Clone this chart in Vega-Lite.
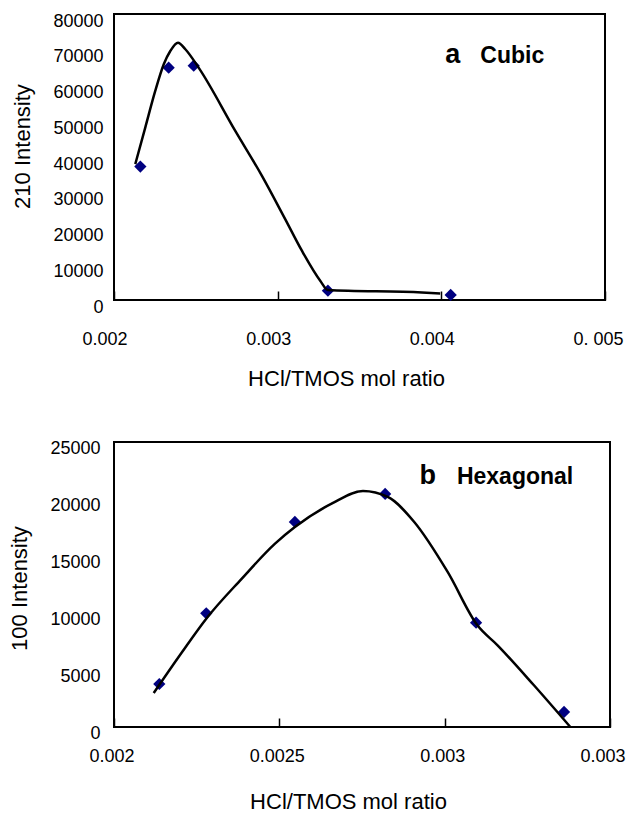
{
  "$schema": "https://vega.github.io/schema/vega-lite/v6.json",
  "background": "white",
  "padding": {"left": 7, "top": 11, "right": 0, "bottom": 0},
  "spacing": 48,
  "config": {
    "font": "Liberation Sans",
    "view": {"stroke": "black", "strokeWidth": 2},
    "axis": {
      "grid": false, "domain": false,
      "labelFont": "Liberation Sans", "labelFontSize": 18, "labelColor": "black",
      "titleFont": "Liberation Sans", "titleFontSize": 22, "titleFontWeight": "normal", "titleColor": "black",
      "tickColor": "black", "tickWidth": 1.5,
      "labelOverlap": false, "labelFlush": false, "labelBound": false
    }
  },
  "datasets": {
    "curveA": [
      {"x": 0.00213, "y": 38000},
      {"x": 0.002191, "y": 48230},
      {"x": 0.002252, "y": 58490},
      {"x": 0.002304, "y": 65950},
      {"x": 0.002344, "y": 69660},
      {"x": 0.002391, "y": 71980},
      {"x": 0.002436, "y": 70140},
      {"x": 0.002517, "y": 65000},
      {"x": 0.002741, "y": 47300},
      {"x": 0.002904, "y": 34730},
      {"x": 0.003046, "y": 22630},
      {"x": 0.003148, "y": 13780},
      {"x": 0.00326, "y": 5400},
      {"x": 0.003307, "y": 2800},
      {"x": 0.003882, "y": 2120},
      {"x": 0.003993, "y": 1850}
    ],
    "pointsA": [
      {"x": 0.002161, "y": 37330},
      {"x": 0.002334, "y": 65000},
      {"x": 0.002487, "y": 65550},
      {"x": 0.003307, "y": 2600},
      {"x": 0.004057, "y": 1400}
    ],
    "letterA": [{"x": 0.004024, "y": 66390, "t": "a"}],
    "nameA": [{"x": 0.004238, "y": 66390, "t": "Cubic"}],
    "curveB": [
      {"x": 0.00212, "y": 2980},
      {"x": 0.002206, "y": 6580},
      {"x": 0.002279, "y": 9500},
      {"x": 0.002386, "y": 13000},
      {"x": 0.002487, "y": 16080},
      {"x": 0.002547, "y": 17540},
      {"x": 0.002658, "y": 19590},
      {"x": 0.002753, "y": 20700},
      {"x": 0.002828, "y": 20180},
      {"x": 0.002908, "y": 17980},
      {"x": 0.003009, "y": 13600},
      {"x": 0.003099, "y": 8920},
      {"x": 0.00316, "y": 7170},
      {"x": 0.00327, "y": 3660},
      {"x": 0.00338, "y": 0}
    ],
    "pointsB": [
      {"x": 0.002137, "y": 3772},
      {"x": 0.002279, "y": 9974},
      {"x": 0.002547, "y": 17983},
      {"x": 0.00282, "y": 20439},
      {"x": 0.003095, "y": 9149},
      {"x": 0.003361, "y": 1316}
    ],
    "letterB": [{"x": 0.002924, "y": 21340, "t": "b"}],
    "nameB": [{"x": 0.003037, "y": 21340, "t": "Hexagonal"}]
  },
  "vconcat": [
    {
      "width": 491,
      "height": 286,
      "encoding": {
        "x": {
          "field": "x", "type": "quantitative",
          "scale": {"domain": [0.002, 0.005], "nice": false, "zero": false},
          "axis": {
            "values": [0.002, 0.003, 0.004, 0.005],
            "format": ".3f",
            "labelExpr": "datum.label == '0.005' ? '0. 005' : datum.label",
            "tickSize": -9,
            "labelAlign": "left", "labelOffset": -32, "labelPadding": 39,
            "title": "HCl/TMOS mol ratio", "titlePadding": 20, "titleX": 232
          }
        },
        "y": {
          "field": "y", "type": "quantitative",
          "scale": {"domain": [0, 80000], "nice": false},
          "axis": {
            "values": [0, 10000, 20000, 30000, 40000, 50000, 60000, 70000, 80000],
            "format": "d", "ticks": false,
            "labelOffset": 7, "labelPadding": 11,
            "title": "210 Intensity", "titlePadding": 18, "titleY": 132
          }
        }
      },
      "layer": [
        {
          "data": {"name": "pointsA"},
          "mark": {"type": "point", "shape": "diamond", "filled": true, "color": "#000080", "size": 150, "opacity": 1}
        },
        {
          "data": {"name": "curveA"},
          "mark": {"type": "line", "interpolate": "monotone", "color": "black", "strokeWidth": 2.5}
        },
        {
          "data": {"name": "letterA"},
          "mark": {"type": "text", "align": "left", "baseline": "alphabetic", "fontSize": 27, "fontWeight": "bold", "color": "black"},
          "encoding": {"text": {"field": "t"}}
        },
        {
          "data": {"name": "nameA"},
          "mark": {"type": "text", "align": "left", "baseline": "alphabetic", "fontSize": 23, "fontWeight": "bold", "color": "black"},
          "encoding": {"text": {"field": "t"}}
        }
      ]
    },
    {
      "width": 496,
      "height": 285,
      "encoding": {
        "x": {
          "field": "x", "type": "quantitative",
          "scale": {"domain": [0.002, 0.0035], "nice": false, "zero": false},
          "axis": {
            "values": [0.002, 0.0025, 0.003, 0.0035],
            "format": ".4~f",
            "tickSize": -9,
            "labelAlign": "center", "labelOffset": -2.5, "labelPadding": 29,
            "title": "HCl/TMOS mol ratio", "titlePadding": 26, "titleX": 234
          }
        },
        "y": {
          "field": "y", "type": "quantitative",
          "scale": {"domain": [0, 25000], "nice": false},
          "axis": {
            "values": [0, 5000, 10000, 15000, 20000, 25000],
            "format": "d", "ticks": false,
            "labelOffset": 6, "labelPadding": 14,
            "title": "100 Intensity", "titlePadding": 18, "titleY": 146
          }
        }
      },
      "layer": [
        {
          "data": {"name": "pointsB"},
          "mark": {"type": "point", "shape": "diamond", "filled": true, "color": "#000080", "size": 150, "opacity": 1}
        },
        {
          "data": {"name": "curveB"},
          "mark": {"type": "line", "interpolate": "monotone", "color": "black", "strokeWidth": 2.5}
        },
        {
          "data": {"name": "letterB"},
          "mark": {"type": "text", "align": "left", "baseline": "alphabetic", "fontSize": 27, "fontWeight": "bold", "color": "black"},
          "encoding": {"text": {"field": "t"}}
        },
        {
          "data": {"name": "nameB"},
          "mark": {"type": "text", "align": "left", "baseline": "alphabetic", "fontSize": 23, "fontWeight": "bold", "color": "black"},
          "encoding": {"text": {"field": "t"}}
        }
      ]
    }
  ]
}
